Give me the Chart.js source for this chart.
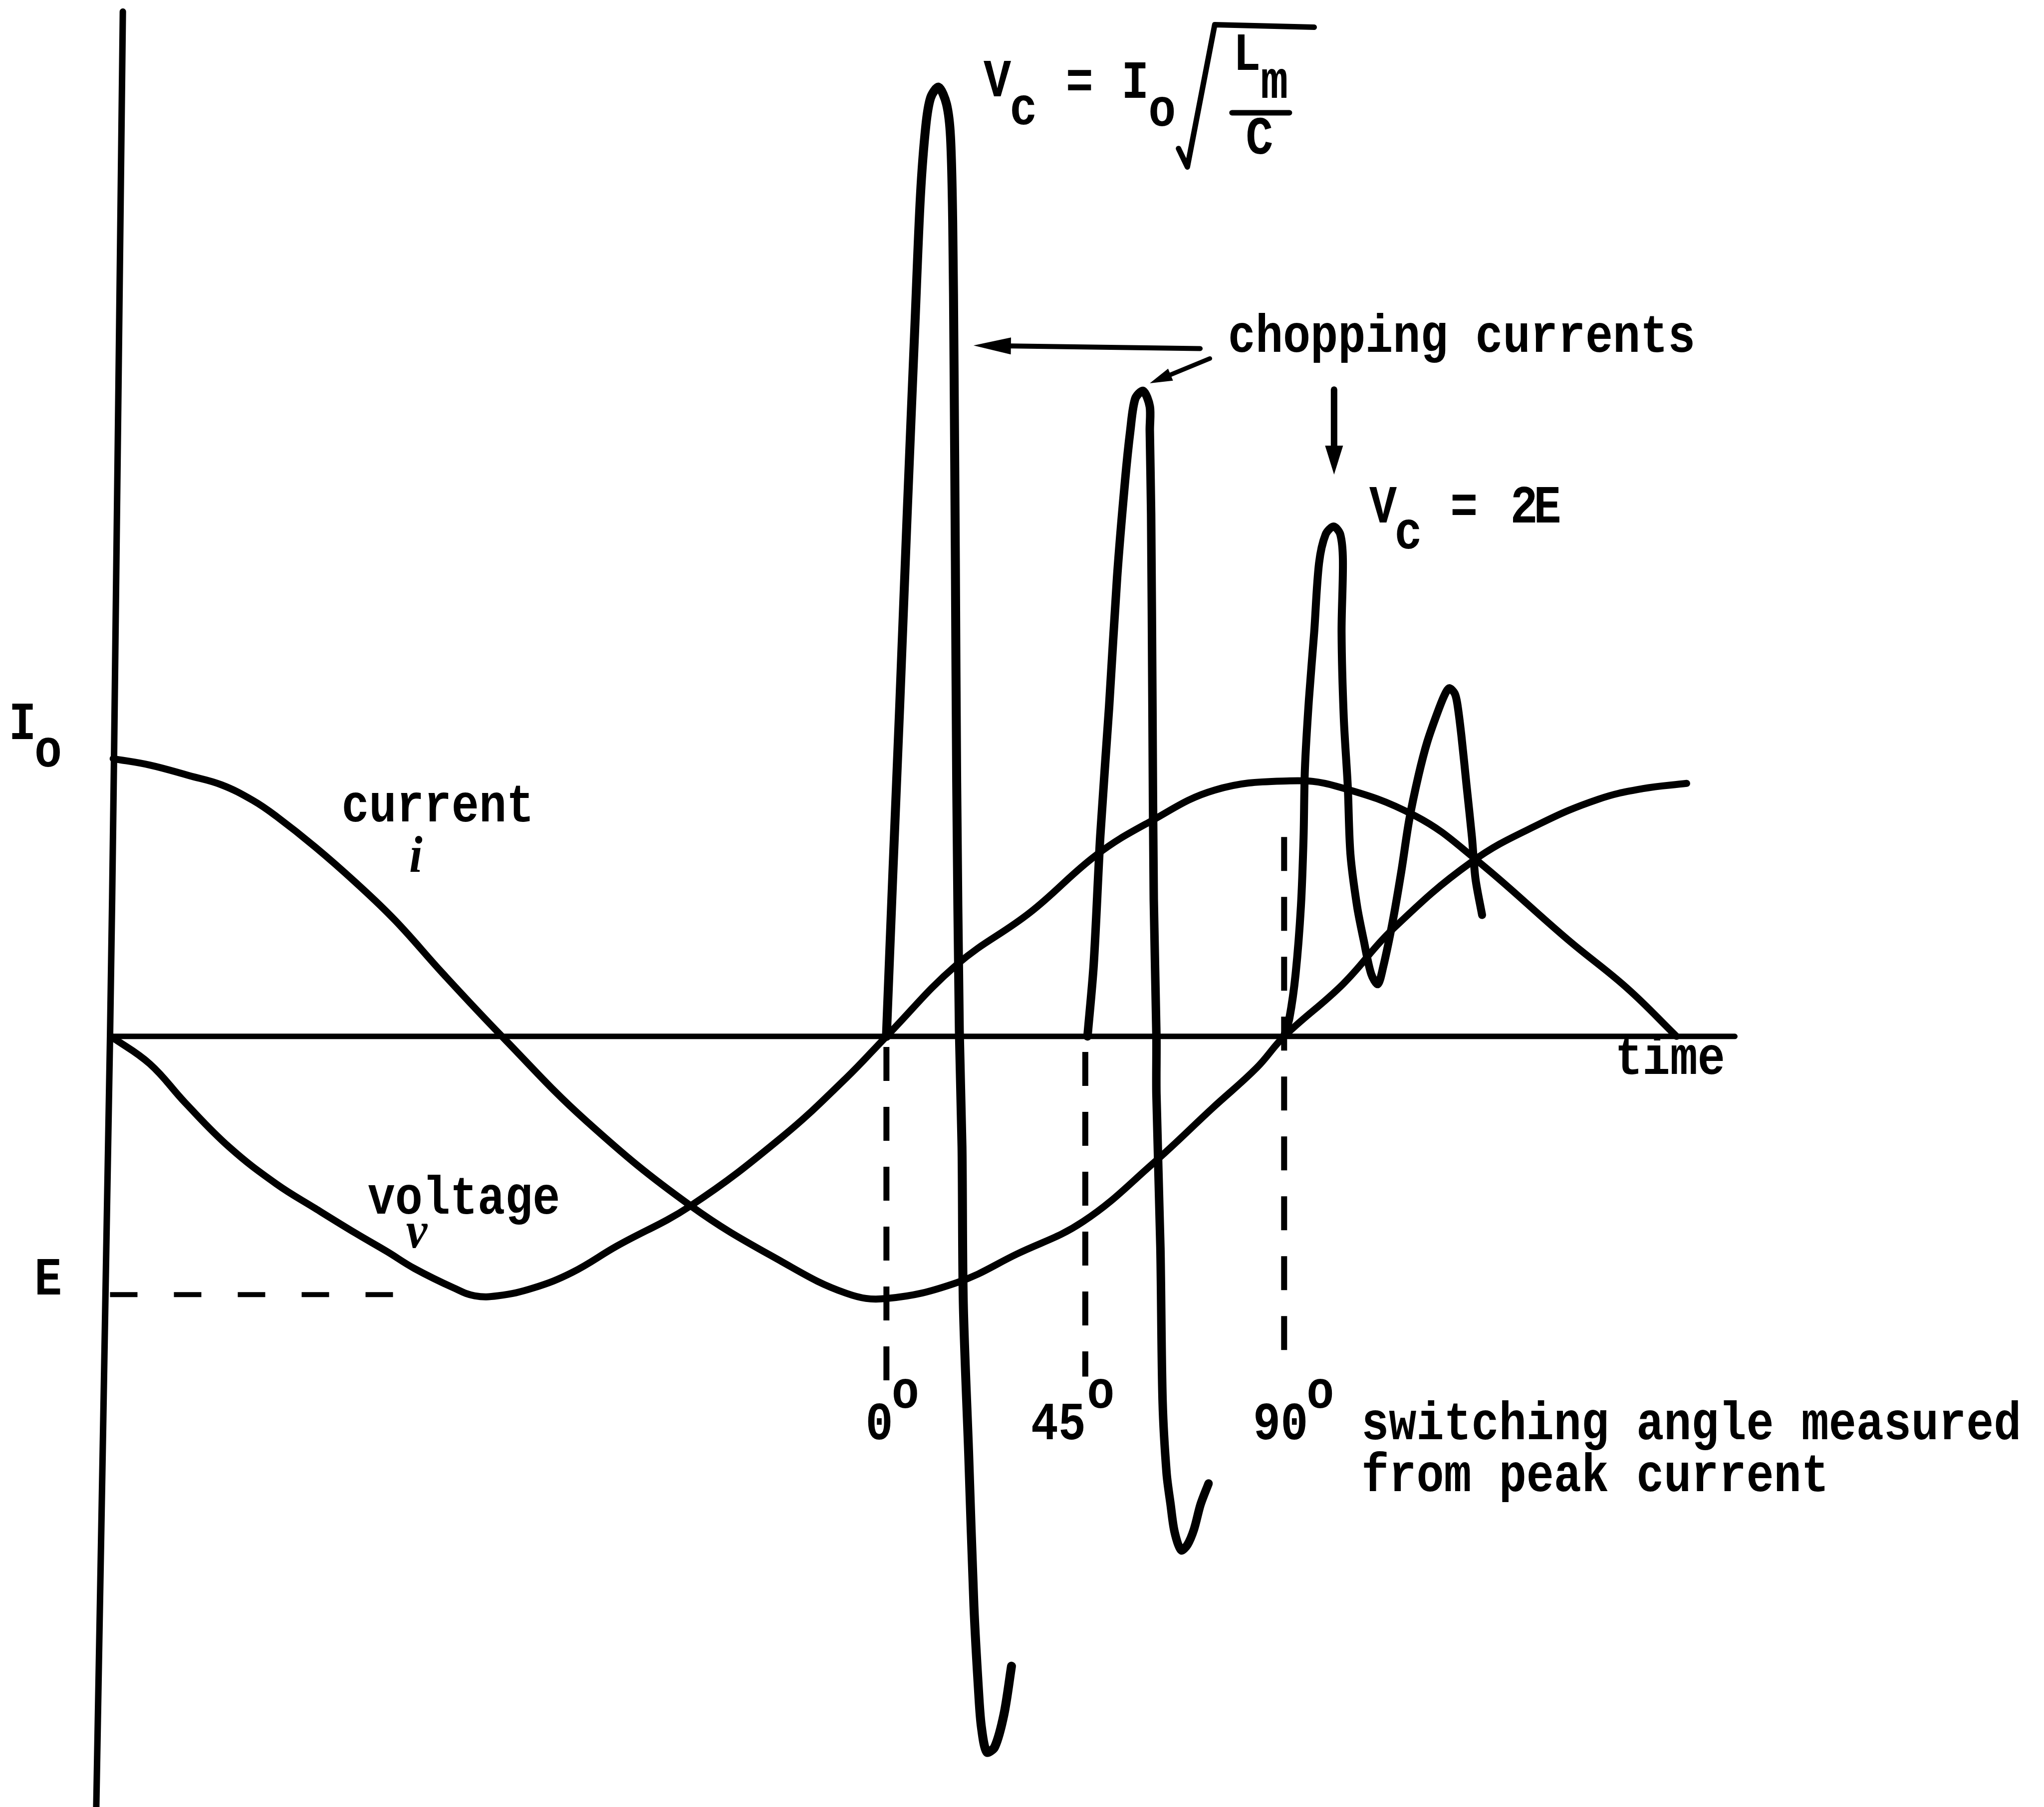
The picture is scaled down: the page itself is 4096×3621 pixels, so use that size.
<!DOCTYPE html>
<html>
<head>
<meta charset="utf-8">
<title>Chopping currents and switching angle</title>
<script src="https://cdn.jsdelivr.net/npm/chart.js@4.4.1/dist/chart.umd.min.js"></script>
<style>
  html, body { margin: 0; padding: 0; background: #fff; }
  canvas { display: block; }
</style>
</head>
<body>
<canvas id="chart" width="4096" height="3621"></canvas>
<script>
// x: electrical degrees measured from peak current, y: per unit of Io
const E_LEVEL = -0.93;

// current i
const currentDeg = [-175, -166.7, -157.8, -150.5, -143.4, -138.1, -129.2, -120.1, -111.2, -100.3, -87.0, -67.9, -44.3, -23.6, -9.1, 0, 15.9, 29.5, 44.5, 60.5, 73.8, 83.8, 90, 103.3, 114.5, 132.5, 147.8, 161.1, 171.1, 181.1];
const currentPu = [1.0, 0.977, 0.939, 0.906, 0.850, 0.793, 0.681, 0.554, 0.418, 0.225, 0, -0.305, -0.610, -0.812, -0.925, -0.944, -0.887, -0.784, -0.667, -0.455, -0.258, -0.113, 0, 0.188, 0.385, 0.629, 0.765, 0.854, 0.892, 0.911];

// voltage v
const voltageDeg = [-175.5, -166.7, -158.7, -148.7, -138.1, -129.2, -120.1, -113.0, -106.8, -97.9, -93.2, -87.9, -79.9, -71.1, -61.1, -44.3, -23.6, -9.1, 0, 15.9, 32.5, 47.5, 59.3, 74.3, 91.2, 101.8, 119.8, 133.3, 154.3, 167.6, 178.8];
const voltagePu = [0, -0.099, -0.239, -0.399, -0.531, -0.620, -0.709, -0.775, -0.836, -0.906, -0.934, -0.934, -0.906, -0.850, -0.756, -0.610, -0.362, -0.150, 0, 0.258, 0.446, 0.653, 0.770, 0.887, 0.920, 0.901, 0.793, 0.638, 0.347, 0.174, 0];

// chopping at 0 deg
const chop0Deg = [0, 1.5, 3.0, 4.7, 6.5, 7.7, 8.9, 10.0, 11.8, 13.6, 14.5, 15.0, 15.3, 15.6, 15.9, 16.5, 17.1, 17.4, 18.6, 19.8, 20.9, 21.5, 22.7, 24.5, 26.6, 28.3];
const chop0Pu = [0, 0.606, 1.188, 1.883, 2.582, 3.028, 3.277, 3.380, 3.418, 3.357, 3.239, 2.930, 2.418, 1.714, 0.915, 0.02, -0.399, -0.962, -1.498, -2.052, -2.371, -2.488, -2.577, -2.559, -2.441, -2.268];

// chopping at 45 deg
const chop45Deg = [45.5, 46.9, 48.4, 50.4, 52.2, 54.0, 55.2, 56.3, 58.1, 59.6, 59.6, 59.9, 60.2, 60.5, 61.1, 61.1, 62.0, 62.5, 63.4, 64.3, 65.2, 66.7, 68.1, 69.6, 71.1, 72.9];
const chop45Pu = [0, 0.258, 0.723, 1.188, 1.653, 2.000, 2.183, 2.296, 2.324, 2.268, 2.183, 1.883, 1.188, 0.493, 0, -0.207, -0.761, -1.315, -1.573, -1.685, -1.784, -1.850, -1.831, -1.775, -1.685, -1.610];

// chopping at 90 deg
const chop90Deg = [90, 91.2, 92.6, 93.8, 94.4, 94.7, 95.6, 96.8, 97.9, 99.4, 101.2, 102.7, 103.3, 103.0, 103.5, 104.4, 105.0, 106.5, 108.0, 109.7, 111.2, 112.4, 114.5, 116.5, 118.3, 120.4, 122.4, 125.1, 126.6, 127.4, 128.6, 129.2, 130.1, 131.3, 132.5, 133.3, 134.8];
const chop90Pu = [0, 0.066, 0.225, 0.469, 0.718, 0.962, 1.211, 1.455, 1.704, 1.808, 1.836, 1.808, 1.714, 1.455, 1.146, 0.901, 0.657, 0.469, 0.347, 0.225, 0.188, 0.249, 0.408, 0.592, 0.779, 0.939, 1.061, 1.183, 1.239, 1.254, 1.235, 1.197, 1.085, 0.901, 0.718, 0.568, 0.437];

// switching angles and the extent of their guide lines
const switchAngles = [0, 45, 90];
const guideTop = [-0.038, -0.056, 0.718];
const guideBottom = [-1.245, -1.225, -1.183];

// hand drawn axes
const vAxisDeg = [-172.8, -174.8, -175.7, -178.9];
const vAxisPu = [3.69, 1.0, 0, -2.85];
const timeAxisDeg = [-175.7, 192.0];
const eGuideDeg = [-175.7, -111.5];

function pts(xs, ys) {
    return xs.map((x, i) => ({ x: x, y: ys[i] }));
}

function lineSet(xs, ys, width, extra) {
    return Object.assign({
        data: pts(xs, ys),
        borderColor: '#000',
        borderWidth: width,
        pointRadius: 0,
        tension: 0,
        fill: false,
        borderCapStyle: 'round',
        borderJoinStyle: 'round'
    }, extra || {});
}

const datasets = [
    lineSet(vAxisDeg, vAxisPu, 13, { tension: 0.3 }),
    lineSet(timeAxisDeg, [0, 0], 11),
    lineSet(eGuideDeg, [E_LEVEL, E_LEVEL], 10, { borderDash: [55, 73], borderCapStyle: 'butt' }),
    lineSet(currentDeg, currentPu, 14, { tension: 0.4 }),
    lineSet(voltageDeg, voltagePu, 14, { tension: 0.4 }),
    lineSet(chop0Deg, chop0Pu, 18, { tension: 0.3 }),
    lineSet(chop45Deg, chop45Pu, 17, { tension: 0.3 }),
    lineSet(chop90Deg, chop90Pu, 16, { tension: 0.3 })
];

switchAngles.forEach((a, i) => {
    datasets.push(lineSet([a, a], [guideTop[i], guideBottom[i]], 12, { borderDash: [68, 52], borderCapStyle: 'butt' }));
});

// annotation arrows: tail -> tip, head length / half width in px
const arrows = [
    { from: [71.0, 2.477], to: [19.7, 2.488], width: 10, head: 75, half: 17 },
    { from: [73.2, 2.441], to: [59.6, 2.352], width: 9, head: 45, half: 13 },
    { from: [101.3, 2.329], to: [101.3, 2.023], width: 13, head: 58, half: 18 }
];

// text notes: left-anchored strings
const notes = [
    { text: 'chopping currents', x: 77.3, y: 2.465 },
    { text: 'current', x: -123.3, y: 0.775 },
    { text: 'voltage', x: -117.4, y: -0.638 },
    { text: 'time', x: 164.9, y: -0.136 },
    { text: 'switching angle measured', x: 107.5, y: -1.451 },
    { text: 'from peak current', x: 107.5, y: -1.638 }
];

// single glyphs, centred
const glyphs = [
    { text: 'I', x: -195.5, y: 1.070 },
    { text: 'o', x: -189.7, y: 0.972 },
    { text: 'E', x: -189.7, y: E_LEVEL },
    { text: '0', x: -1.6, y: -1.451 },
    { text: '45', x: 38.9, y: -1.451 },
    { text: '90', x: 89.2, y: -1.451 },
    { text: 'o', x: 4.3, y: -1.338 },
    { text: 'o', x: 48.5, y: -1.338 },
    { text: 'o', x: 98.2, y: -1.338 },
    // Vc = Io sqrt(Lm / C)
    { text: 'V', x: 25.1, y: 3.385 },
    { text: 'c', x: 31.0, y: 3.284 },
    { text: '=', x: 43.7, y: 3.380 },
    { text: 'I', x: 56.3, y: 3.380 },
    { text: 'o', x: 62.4, y: 3.280 },
    { text: 'L', x: 81.6, y: 3.480 },
    { text: 'm', x: 87.8, y: 3.380 },
    { text: 'C', x: 84.4, y: 3.178 },
    // Vc = 2E
    { text: 'V', x: 112.4, y: 1.850 },
    { text: 'c', x: 118.1, y: 1.757 },
    { text: '=', x: 130.7, y: 1.850 },
    { text: '2', x: 144.3, y: 1.850 },
    { text: 'E', x: 149.6, y: 1.850 }
];

// hand written curve symbols
const symbols = [
    { text: 'i', x: -106.5, y: 0.592 },
    { text: 'v', x: -106.3, y: -0.761 }
];

const radicalDeg = [66.1, 68.1, 74.3, 96.8];
const radicalPu = [3.197, 3.131, 3.643, 3.634];
const fractionBar = { x0: 78.2, x1: 91.2, y: 3.326 };

const monoFont = 'bold 108px "Liberation Mono", "Courier New", monospace';
const scriptFont = 'italic bold 104px "Liberation Serif", serif';
const squeeze = 0.85;

const whiteBackground = {
    id: 'whiteBackground',
    beforeDraw(chart) {
        const ctx = chart.ctx;
        ctx.save();
        ctx.fillStyle = '#fff';
        ctx.fillRect(0, 0, chart.width, chart.height);
        ctx.restore();
    }
};

const notesPlugin = {
    id: 'notes',
    afterDatasetsDraw(chart) {
        const ctx = chart.ctx;
        const xs = chart.scales.x;
        const ys = chart.scales.y;
        const px = v => xs.getPixelForValue(v);
        const py = v => ys.getPixelForValue(v);

        ctx.save();
        ctx.fillStyle = '#000';
        ctx.strokeStyle = '#000';
        ctx.textBaseline = 'alphabetic';

        function put(t, x, y, align, font, sx) {
            ctx.save();
            ctx.font = font;
            ctx.textAlign = align;
            ctx.translate(px(x), py(y));
            ctx.scale(sx, 1);
            ctx.fillText(t, 0, 0);
            ctx.restore();
        }

        notes.forEach(n => put(n.text, n.x, n.y, 'left', monoFont, squeeze));
        glyphs.forEach(g => put(g.text, g.x, g.y, 'center', monoFont, squeeze));
        symbols.forEach(s => put(s.text, s.x, s.y, 'center', scriptFont, 0.92));

        // radical sign and fraction bar
        ctx.lineCap = 'round';
        ctx.lineJoin = 'round';
        ctx.lineWidth = 11;
        ctx.beginPath();
        radicalDeg.forEach((d, i) => {
            if (i === 0) ctx.moveTo(px(d), py(radicalPu[i]));
            else ctx.lineTo(px(d), py(radicalPu[i]));
        });
        ctx.stroke();
        ctx.beginPath();
        ctx.moveTo(px(fractionBar.x0), py(fractionBar.y));
        ctx.lineTo(px(fractionBar.x1), py(fractionBar.y));
        ctx.stroke();

        // arrows
        arrows.forEach(a => {
            const x0 = px(a.from[0]), y0 = py(a.from[1]);
            const x1 = px(a.to[0]), y1 = py(a.to[1]);
            const ang = Math.atan2(y1 - y0, x1 - x0);
            const bx = x1 - Math.cos(ang) * a.head;
            const by = y1 - Math.sin(ang) * a.head;
            ctx.lineWidth = a.width;
            ctx.beginPath();
            ctx.moveTo(x0, y0);
            ctx.lineTo(bx, by);
            ctx.stroke();
            ctx.beginPath();
            ctx.moveTo(x1, y1);
            ctx.lineTo(bx - Math.sin(ang) * a.half, by + Math.cos(ang) * a.half);
            ctx.lineTo(bx + Math.sin(ang) * a.half, by - Math.cos(ang) * a.half);
            ctx.closePath();
            ctx.fill();
        });

        ctx.restore();
    }
};

new Chart(document.getElementById('chart').getContext('2d'), {
    type: 'line',
    data: { datasets: datasets },
    options: {
        responsive: false,
        animation: false,
        devicePixelRatio: 1,
        layout: { padding: 0 },
        scales: {
            x: { type: 'linear', min: -200.6, max: 261.96, display: false },
            y: { type: 'linear', min: -2.775, max: 3.732, display: false }
        },
        plugins: {
            legend: { display: false },
            tooltip: { enabled: false }
        }
    },
    plugins: [whiteBackground, notesPlugin]
});
</script>
</body>
</html>
